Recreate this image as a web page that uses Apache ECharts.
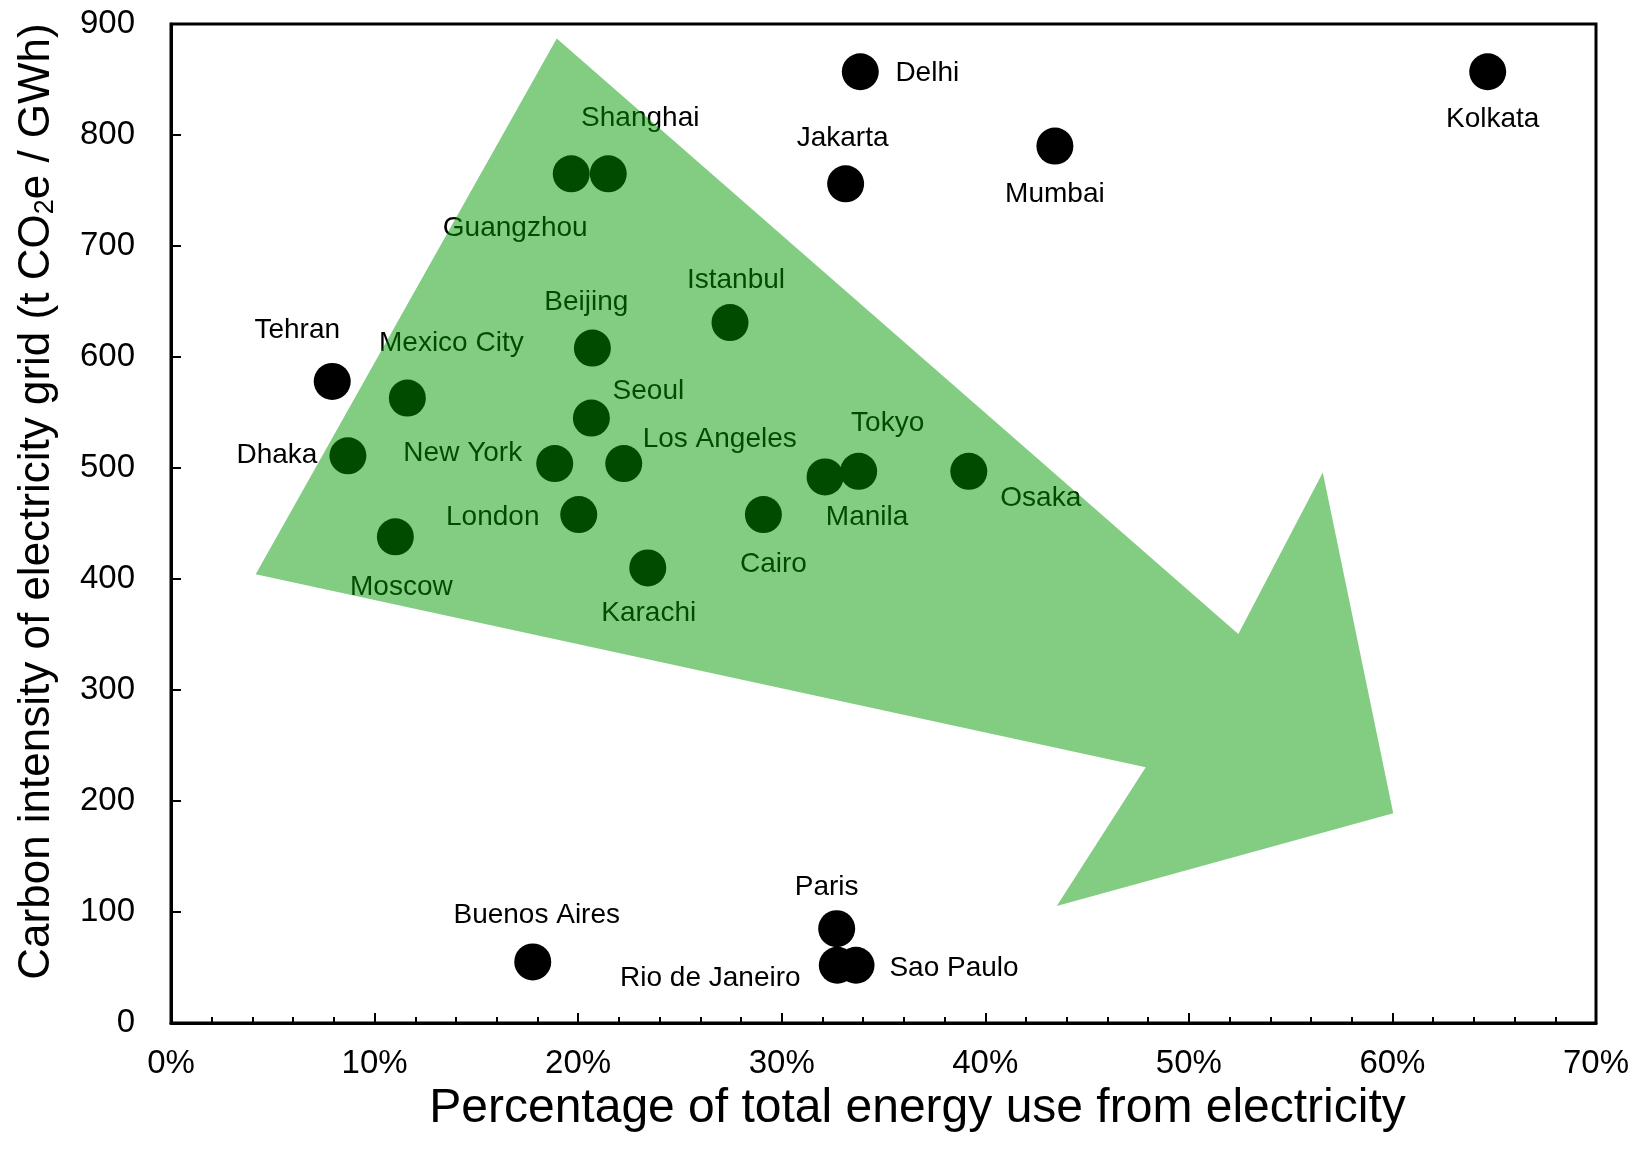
<!DOCTYPE html>
<html>
<head>
<meta charset="utf-8">
<script src="https://cdn.jsdelivr.net/npm/echarts@6/dist/echarts.min.js"></script>
<style>
html,body{margin:0;padding:0;background:#fff;}
#chart{width:1641px;height:1158px;}
</style>
</head>
<body>
<div id="chart"></div>
<script>
// ---- data ----
const cities = ['Delhi','Kolkata','Jakarta','Mumbai','Shanghai','Guangzhou','Istanbul','Beijing','Tehran','Mexico City','Seoul','Dhaka','New York','Los Angeles','Tokyo','Manila','Osaka','London','Cairo','Moscow','Karachi','Buenos Aires','Paris','Rio de Janeiro','Sao Paulo'];
const elecShare = [33.86, 64.68, 33.14, 43.42, 21.48, 19.66, 27.46, 20.70, 7.92, 11.61, 20.65, 8.69, 18.85, 22.24, 33.78, 32.13, 39.19, 20.03, 29.10, 11.02, 23.42, 17.77, 32.70, 32.73, 33.65];
const carbonIntensity = [857, 857, 756, 790, 765, 765, 631, 608, 578, 563, 545, 511, 504, 504, 497, 492, 497, 458, 458, 438, 410, 55, 85, 52, 52];

// arrow outline in data units (x: % of energy, y: t CO2e / GWh)
const arrowX = [18.95, 52.43, 56.58, 60.04, 43.51, 47.88, 4.16];
const arrowY = [887, 350.5, 496, 189, 105.4, 230.4, 404.2];

// ---- layout (label offsets from marker centre, px) ----
const labelOffsets = {
  'Delhi':[67,2], 'Kolkata':[5,48], 'Jakarta':[-3,-46], 'Mumbai':[0,48],
  'Shanghai':[32,-56], 'Guangzhou':[-56,54], 'Istanbul':[6,-42], 'Beijing':[-6,-46],
  'Tehran':[-35,-51], 'Mexico City':[44,-55], 'Seoul':[57,-27], 'Dhaka':[-71,-1],
  'New York':[-92,-10], 'Los Angeles':[96,-24], 'Tokyo':[29,-48], 'Manila':[42,40],
  'Osaka':[72,27], 'London':[-86,3], 'Cairo':[10,50], 'Moscow':[6,50], 'Karachi':[1,45],
  'Buenos Aires':[4,-47], 'Paris':[-10,-41], 'Rio de Janeiro':[-127,13], 'Sao Paulo':[98,3]
};

const FONT = '"Liberation Sans", Arial, sans-serif';

const pointData = cities.map((c, i) => ({
  name: c,
  value: [elecShare[i], carbonIntensity[i]],
  label: { offset: labelOffsets[c] || [0, 0] }
}));

const chart = echarts.init(document.getElementById('chart'), null, {renderer: 'canvas'});
chart.setOption({
  animation: false,
  backgroundColor: '#ffffff',
  grid: { left: 171, right: 45, top: 24, bottom: 135, show: true, borderColor: '#000', borderWidth: 3, backgroundColor: 'transparent' },
  xAxis: {
    type: 'value', min: 0, max: 70, interval: 10,
    name: 'Percentage of total energy use from electricity',
    nameLocation: 'middle', nameGap: 57,
    nameTextStyle: { fontFamily: FONT, fontSize: 48, color: '#000', padding: [0, 0, 0, 68] },
    axisLine: { show: true, lineStyle: { color: '#000', width: 3 } },
    axisTick: { show: true, inside: true, length: 10, lineStyle: { color: '#000', width: 2 } },
    minorTick: { show: true, splitNumber: 5, length: 6, lineStyle: { color: '#000', width: 2 } },
    axisLabel: { formatter: '{value}%', fontFamily: FONT, fontSize: 33, color: '#000', margin: 24 },
    splitLine: { show: false }
  },
  yAxis: {
    type: 'value', min: 0, max: 900, interval: 100,
    name: 'Carbon intensity of electricity grid (t CO{sub|2}e / GWh)',
    nameLocation: 'middle', nameGap: 112, nameRotate: 90,
    nameTextStyle: {
      fontFamily: FONT, fontSize: 44, color: '#000', padding: [0, 0, 0, 44],
      rich: { sub: { fontFamily: FONT, fontSize: 27, color: '#000', verticalAlign: 'bottom', padding: [14, 0, 0, 0] } }
    },
    axisLine: { show: true, lineStyle: { color: '#000', width: 3 } },
    axisTick: { show: true, inside: true, length: 10, lineStyle: { color: '#000', width: 2 } },
    axisLabel: { fontFamily: FONT, fontSize: 33, color: '#000', margin: 36 },
    splitLine: { show: false }
  },
  series: [
    {
      type: 'scatter',
      z: 2,
      symbol: 'circle',
      symbolSize: 37,
      itemStyle: { color: '#000', opacity: 1 },
      label: { show: true, position: 'inside', formatter: '{b}', fontFamily: FONT, fontSize: 28, color: '#000' },
      data: pointData
    },
    {
      type: 'custom',
      zlevel: 1,
      z: 10,
      silent: true,
      clip: false,
      data: [0],
      renderItem: function (params, api) {
        const pts = arrowX.map((x, i) => api.coord([x, arrowY[i]]));
        return {
          type: 'polygon',
          shape: { points: pts },
          style: { fill: 'rgba(0,153,0,0.49)', stroke: null }
        };
      }
    }
  ]
});
</script>
</body>
</html>
